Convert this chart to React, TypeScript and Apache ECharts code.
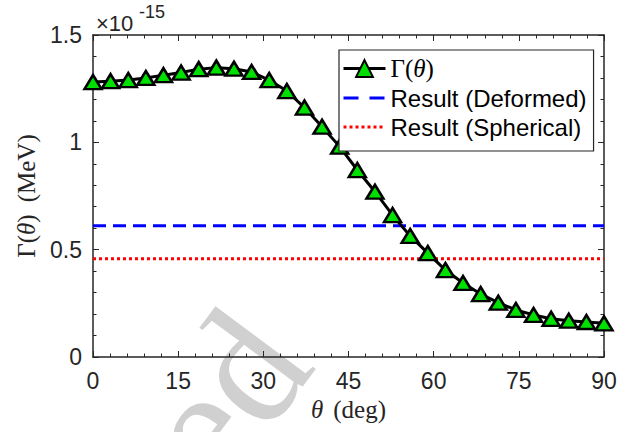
import React, { useEffect, useRef } from "react";
import * as echarts from "echarts";

const thetaDeg = [
  0, 3.1, 6.21, 9.31, 12.41, 15.52, 18.62, 21.72, 24.83, 27.93, 31.03, 34.14,
  37.24, 40.34, 43.45, 46.55, 49.66, 52.76, 55.86, 58.97, 62.07, 65.17, 68.28,
  71.38, 74.48, 77.59, 80.69, 83.79, 86.9, 90,
];
const gammaValues = [
  1.281, 1.285, 1.29, 1.3, 1.313, 1.325, 1.341, 1.348, 1.343, 1.328, 1.29,
  1.239, 1.162, 1.073, 0.98, 0.871, 0.77, 0.661, 0.564, 0.484, 0.405, 0.345,
  0.293, 0.253, 0.219, 0.196, 0.178, 0.169, 0.163, 0.157,
];
const deformedResult = 0.611;
const sphericalResult = 0.458;
const xTicks = [0, 15, 30, 45, 60, 75, 90];
const yTickLabels: Record<string, string> = { "0": "0", "0.5": "0.5", "1": "1", "1.5": "1.5" };

const seriesNames = ["Γ(θ)", "Result (Deformed)", "Result (Spherical)"];

export default function App() {
  const ref = useRef<HTMLDivElement>(null);
  useEffect(() => {
    if (!ref.current) return;
    const chart = echarts.init(ref.current, undefined, { renderer: "svg" });
    const axisColor = "#262626";
    const sans = "Liberation Sans, Arial, Helvetica, sans-serif";
    const serif = "Liberation Serif, DejaVu Serif, serif";
    const tickCommon = {
      axisLine: { show: true, onZero: false, lineStyle: { color: axisColor, width: 1.5 } },
      axisTick: { show: true, inside: true, length: 6, lineStyle: { color: axisColor, width: 1 } },
      minorTick: { show: true, splitNumber: 5, length: 3.5, lineStyle: { color: axisColor, width: 1 } },
      splitLine: { show: false },
      minorSplitLine: { show: false },
    };
    const mainData = thetaDeg.map((t, i) => [t, gammaValues[i]]);
    chart.setOption({
      animation: false,
      backgroundColor: "#ffffff",
      grid: { left: 93, right: 39, top: 35, bottom: 75, containLabel: false },
      xAxis: [
        {
          type: "value",
          min: 0,
          max: 90,
          interval: 15,
          position: "bottom",
          ...tickCommon,
          axisLabel: {
            color: axisColor,
            fontFamily: sans,
            fontSize: 23,
            margin: 12,
            formatter: (v: number) => (xTicks.includes(v) ? String(v) : ""),
          },
          name: "{i|θ}{r|(deg)}",
          nameLocation: "middle",
          nameGap: 38,
          nameTextStyle: {
            color: axisColor,
            rich: {
              i: { fontFamily: serif, fontStyle: "italic", fontSize: 25, color: axisColor, padding: [0, 10, 0, 0] },
              r: { fontFamily: serif, fontSize: 25, color: axisColor },
            },
          },
        },
        {
          type: "value",
          min: 0,
          max: 90,
          interval: 15,
          position: "top",
          ...tickCommon,
          axisLabel: { show: false },
        },
      ],
      yAxis: [
        {
          type: "value",
          min: 0,
          max: 1.5,
          interval: 0.5,
          position: "left",
          ...tickCommon,
          axisLabel: {
            color: axisColor,
            fontFamily: sans,
            fontSize: 23,
            margin: 11,
            formatter: (v: number) => yTickLabels[String(v)] ?? String(v),
          },
          name: "{r|Γ(}{i|θ}{p|)}{r|(MeV)}",
          nameLocation: "middle",
          nameGap: 51,
          nameTextStyle: {
            color: axisColor,
            rich: {
              i: { fontFamily: serif, fontStyle: "italic", fontSize: 25, color: axisColor },
              r: { fontFamily: serif, fontSize: 25, color: axisColor },
              p: { fontFamily: serif, fontSize: 25, color: axisColor, padding: [0, 12, 0, 0] },
            },
          },
        },
        {
          type: "value",
          min: 0,
          max: 1.5,
          interval: 0.5,
          position: "right",
          ...tickCommon,
          axisLabel: { show: false },
        },
      ],
      legend: {
        orient: "vertical",
        left: 339,
        top: 50,
        data: [
          { name: seriesNames[0] },
          { name: seriesNames[1], itemStyle: { opacity: 0 }, lineStyle: { type: [15, 11] } },
          { name: seriesNames[2], itemStyle: { opacity: 0 } },
        ],
        itemWidth: 42,
        itemHeight: 21,
        itemGap: 5,
        padding: [6, 7, 12, 3],
        borderColor: axisColor,
        borderWidth: 1.2,
        backgroundColor: "#ffffff",
        borderRadius: 0,
        lineStyle: { width: 3 },
        textStyle: {
          fontFamily: sans,
          fontSize: 24,
          lineHeight: 24,
          color: "#000000",
          rich: {
            r: { fontFamily: serif, fontSize: 25, color: "#000000" },
            i: { fontFamily: serif, fontSize: 25, fontStyle: "italic", color: "#000000" },
          },
        },
        formatter: (name: string) => (name === seriesNames[0] ? "{r|Γ(}{i|θ}{r|)}" : name),
        z: 10,
      },
      graphic: [
        {
          type: "text",
          x: 271,
          y: 333,
          rotation: 0.93,
          silent: true,
          z: -10,
          style: {
            text: "ed",
            align: "right",
            verticalAlign: "middle",
            fontFamily: serif,
            fontSize: 170,
            fill: "#d0d0d0",
          },
        },
        {
          type: "text",
          x: 96,
          y: 23,
          silent: true,
          style: {
            text: "×10",
            fontFamily: sans,
            fontSize: 22,
            fill: axisColor,
            verticalAlign: "middle",
            align: "left",
          },
        },
        {
          type: "text",
          x: 139,
          y: 12,
          silent: true,
          style: {
            text: "-15",
            fontFamily: sans,
            fontSize: 18,
            fill: axisColor,
            verticalAlign: "middle",
            align: "left",
          },
        },
      ],
      series: [
        {
          name: seriesNames[0],
          type: "line",
          data: mainData,
          symbol: "triangle",
          symbolSize: [17, 14],
          z: 5,
          lineStyle: { color: "#000000", width: 3 },
          itemStyle: { color: "#00e000", borderColor: "#000000", borderWidth: 2.5 },
        },
        {
          name: seriesNames[1],
          type: "line",
          data: [
            [0, deformedResult],
            [90, deformedResult],
          ],
          symbol: "none",
          z: 3,
          lineStyle: { color: "#0000ff", width: 3, type: [13, 7] },
          itemStyle: { color: "#0000ff" },
        },
        {
          name: seriesNames[2],
          type: "line",
          data: [
            [0, sphericalResult],
            [90, sphericalResult],
          ],
          symbol: "none",
          z: 3,
          lineStyle: { color: "#ff0000", width: 3, type: [3, 3] },
          itemStyle: { color: "#ff0000" },
        },
      ],
    });
    return () => chart.dispose();
  }, []);
  return <div ref={ref} style={{ width: 643, height: 432, position: "absolute", left: 0, top: 0 }} />;
}
